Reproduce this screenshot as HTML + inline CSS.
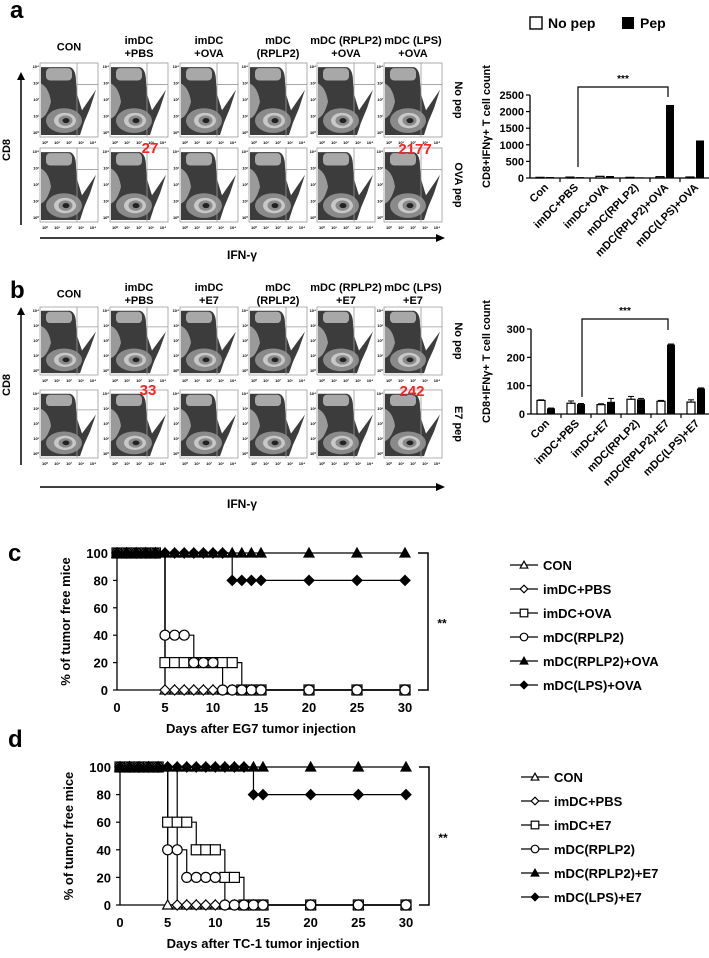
<!DOCTYPE html>
<html><head><meta charset="utf-8">
<style>
html,body{margin:0;padding:0;background:#fff;}
svg{display:block;font-family:"Liberation Sans",Arial,sans-serif;}
text{font-weight:bold;fill:#000;}
</style></head>
<body>
<svg id="fig" width="709" height="958" viewBox="0 0 709 958" xmlns="http://www.w3.org/2000/svg">
<defs>
<g id="flowplot">
  <rect x="0" y="0" width="58" height="72" fill="#fff" stroke="#999" stroke-width="0.8"/>
  <path d="M1,4 L30,4 Q36,6 36,18 L37,30 Q40,40 42,46 L56,26 L50,44 L44,58 L40,70 L1,70 Z" fill="#3c3c3c"/>
  <path d="M1,20 Q9,24 11,38 Q7,52 1,54 Z" fill="#9a9a9a"/>
  <rect x="6" y="5" width="26" height="12" rx="4" fill="#a8a8a8"/>
  <ellipse cx="24" cy="56" rx="18" ry="12" fill="#8a8a8a"/>
  <ellipse cx="25" cy="56" rx="11" ry="7.5" fill="#c8c8c8"/>
  <ellipse cx="25.5" cy="56" rx="7" ry="5" fill="#8a8a8a"/>
  <ellipse cx="26" cy="56" rx="3.5" ry="2.5" fill="#222"/>
  <line x1="37" y1="0" x2="37" y2="72" stroke="#999" stroke-width="0.8"/>
  <line x1="37" y1="21" x2="58" y2="21" stroke="#999" stroke-width="0.8"/>
</g>
</defs>
<g id="root"></g>
</svg>
<script>
// ---------- Panel a/b bar data ----------
const barCatsA = ["Con","imDC+PBS","imDC+OVA","mDC(RPLP2)","mDC(RPLP2)+OVA","mDC(LPS)+OVA"];
const noPepA = [20, 27, 50, 20, 40, 30];
const pepA   = [30, 27, 60, 20, 2200, 1130];
const ticksA = [0, 500, 1000, 1500, 2000, 2500];
const barCatsB = ["Con","imDC+PBS","imDC+E7","mDC(RPLP2)","mDC(RPLP2)+E7","mDC(LPS)+E7"];
const noPepB = [48, 38, 33, 52, 45, 42];
const noPepErrB = [2, 8, 3, 10, 3, 8];
const pepB   = [20, 35, 43, 52, 245, 90];
const pepErrB = [1, 2, 12, 3, 2, 2];
const ticksB = [0, 100, 200, 300];

// ---------- Survival data ----------
const days = [0,1,2,3,4,5,6,7,8,9,10,11,12,13,14,15,20,25,30];
const survTicksX = [0,5,10,15,20,25,30];
const survTicksY = [0,20,40,60,80,100];
const cCon  = [100,100,100,100,100,0,0,0,0,0,0,0,0,0,0,0,0,0,0];
const cPbs  = [100,100,100,100,100,0,0,0,0,0,0,0,0,0,0,0,0,0,0];
const cOva  = [100,100,100,100,100,20,20,20,20,20,20,20,20,0,0,0,0,0,0];
const cRplp = [100,100,100,100,100,40,40,40,20,20,20,0,0,0,0,0,0,0,0];
const cRplpOva = [100,100,100,100,100,100,100,100,100,100,100,100,100,100,100,100,100,100,100];
const cLps  = [100,100,100,100,100,100,100,100,100,100,100,100,80,80,80,80,80,80,80];
const dCon  = [100,100,100,100,100,0,0,0,0,0,0,0,0,0,0,0,0,0,0];
const dPbs  = [100,100,100,100,100,100,0,0,0,0,0,0,0,0,0,0,0,0,0];
const dE7   = [100,100,100,100,100,60,60,60,40,40,40,20,20,0,0,0,0,0,0];
const dRplp = [100,100,100,100,100,40,40,20,20,20,20,0,0,0,0,0,0,0,0];
const dRplpE7 = [100,100,100,100,100,100,100,100,100,100,100,100,100,100,100,100,100,100,100];
const dLps  = [100,100,100,100,100,100,100,100,100,100,100,100,100,100,80,80,80,80,80];

const NS = "http://www.w3.org/2000/svg";
const root = document.getElementById('root');
function mk(tag, attrs, parent){
  const e = document.createElementNS(NS, tag);
  for (const k in attrs) e.setAttribute(k, attrs[k]);
  (parent||root).appendChild(e);
  return e;
}
function txt(x,y,s,size,anchor,parent,extra){
  const t = mk('text',Object.assign({x:x,y:y,'font-size':size,'text-anchor':anchor||'middle'},extra||{}),parent);
  t.textContent = s;
  return t;
}

// ---------- Flow panels ----------
function flowPanel(letter, ly, headers, hy1, hy2, rowsY, rowH, rowLabels, ifnY, cd8Range, cd8Y, reds){
  const g = mk('g',{});
  
  
  const L = txt(10, ly+8, letter, 24, 'start', g);
  
  
  const colX = [40,110,180,249,317,384];
  headers.forEach((h,i)=>{
    const cx = colX[i]+29;
    if (h.length===1) txt(cx, (hy1+hy2)/2+4, h[0], 11, 'middle', g);
    else { txt(cx, hy1+4, h[0], 11, 'middle', g); txt(cx, hy2+4, h[1], 11, 'middle', g); }
  });
  rowsY.forEach((ry,r)=>{
    colX.forEach((cx,i)=>{
      const u = mk('use',{href:'#flowplot',transform:`translate(${cx},${ry}) scale(1,${rowH/72})`},g);
      
      
      ['10⁰','10¹','10²','10³','10⁴'].forEach((s,k)=>{
        txt(cx+5+k*12, ry+rowH+7, s, 4, 'middle', g);
      });
      ['10⁴','10³','10²','10¹','10⁰'].forEach((s,k)=>{
        txt(cx-1, ry+5+k*(rowH-8)/4, s, 4, 'end', g);
      });
    });
    const rl = txt(455, ry+rowH/2, rowLabels[r], 11, 'middle', g, {transform:`rotate(90 455 ${ry+rowH/2})`});
    
    
  });
  mk('line',{x1:40,y1:ifnY,x2:436,y2:ifnY,stroke:'#000','stroke-width':1.5},g);
  mk('path',{d:`M436,${ifnY-4} L445,${ifnY} L436,${ifnY+4} Z`,fill:'#000'},g);
  txt(242, ifnY+21, 'IFN-γ', 12, 'middle', g);
  mk('line',{x1:21,y1:cd8Range[1],x2:21,y2:cd8Range[0]+8,stroke:'#000','stroke-width':1.5},g);
  mk('path',{d:`M17,${cd8Range[0]+8} L21,${cd8Range[0]} L25,${cd8Range[0]+8} Z`,fill:'#000'},g);
  txt(10, cd8Y, 'CD8', 11, 'middle', g, {transform:`rotate(-90 10 ${cd8Y})`});
  reds.forEach(r=>{
    const t = txt(r[0], r[1], r[2], 15, 'middle', g);
    t.style.fill = '#ff2020';
    
    
  });
}
flowPanel('a', 10, [["CON"],["imDC","+PBS"],["imDC","+OVA"],["mDC","(RPLP2)"],["mDC (RPLP2)","+OVA"],["mDC (LPS)","+OVA"]],
  40, 53, [63,148], 74, ["No pep","OVA pep"], 238, [72,225], 150, [[150,153,"27"],[415,154,"2177"]]);
flowPanel('b', 290, [["CON"],["imDC","+PBS"],["imDC","+E7"],["mDC","(RPLP2)"],["mDC (RPLP2)","+E7"],["mDC (LPS)","+E7"]],
  287, 300, [307,390], 68, ["No pep","E7 pep"], 487, [307,465], 385, [[148,395,"33"],[412,396,"242"]]);

// ---------- Bar charts ----------
function barChart(id, cats, noPep, pep, noErr, pepErr, ticks, maxV, x0, y0, yTop, bracket){
  const g = mk('g',{});
  
  
  const y = v => y0 - v/maxV*(y0-yTop);
  const gw = 30;
  mk('line',{x1:x0,y1:yTop,x2:x0,y2:y0,stroke:'#000','stroke-width':1.3},g);
  mk('line',{x1:x0,y1:y0,x2:x0+gw*cats.length,y2:y0,stroke:'#000','stroke-width':1.3},g);
  ticks.forEach(t=>{
    mk('line',{x1:x0-4,y1:y(t),x2:x0,y2:y(t),stroke:'#000','stroke-width':1.2},g);
    txt(x0-6, y(t)+4, String(t), 11, 'end', g);
  });
  cats.forEach((c,i)=>{
    const cx = x0 + gw*i + gw/2;
    mk('line',{x1:x0+gw*(i+1),y1:y0,x2:x0+gw*(i+1),y2:y0+4,stroke:'#000','stroke-width':1.2},g);
    const b1 = mk('rect',{x:cx-9,y:y(noPep[i]),width:8,height:y0-y(noPep[i]),fill:'#fff',stroke:'#000','stroke-width':1.2},g);
    
    
    const b2 = mk('rect',{x:cx+1,y:y(pep[i]),width:8,height:y0-y(pep[i]),fill:'#000'},g);
    
    
    if (noErr) {
      mk('line',{x1:cx-5,y1:y(noPep[i]+noErr[i]),x2:cx-5,y2:y(noPep[i]),stroke:'#000','stroke-width':1},g);
      mk('line',{x1:cx-8,y1:y(noPep[i]+noErr[i]),x2:cx-2,y2:y(noPep[i]+noErr[i]),stroke:'#000','stroke-width':1},g);
      mk('line',{x1:cx+5,y1:y(pep[i]+pepErr[i]),x2:cx+5,y2:y(pep[i]),stroke:'#000','stroke-width':1},g);
      mk('line',{x1:cx+2,y1:y(pep[i]+pepErr[i]),x2:cx+8,y2:y(pep[i]+pepErr[i]),stroke:'#000','stroke-width':1},g);
    }
    const t = txt(cx+4, y0+10, c, 11, 'end', g, {transform:`rotate(-45 ${cx+4} ${y0+10})`});
    
    
  });
  const [bx1, by1, bTop, bx2, by2] = bracket;
  mk('path',{d:`M${bx1},${by1} L${bx1},${bTop} L${bx2},${bTop} L${bx2},${by2}`,fill:'none',stroke:'#000','stroke-width':1.2},g);
  txt((bx1+bx2)/2, bTop-5, '***', 10, 'middle', g);
  const yt = (yTop+y0)/2 - 10;
  txt(490, yt, 'CD8+IFNγ+ T cell count', 11, 'middle', g, {transform:`rotate(-90 490 ${yt})`});
}
barChart('a', barCatsA, noPepA, pepA, null, null, ticksA, 2500, 530, 178, 95, [578,167,87,668,97]);
barChart('b', barCatsB, noPepB, pepB, noPepErrB, pepErrB, ticksB, 300, 531, 414, 329, [582,397,319,668,330]);
{
  const lg = mk('g',{});
  
  
  mk('rect',{x:530,y:17,width:12,height:12,fill:'#fff',stroke:'#000','stroke-width':1.4},lg);
  txt(548, 28, 'No pep', 14, 'start', lg);
  mk('rect',{x:622,y:17,width:12,height:12,fill:'#000'},lg);
  txt(640, 28, 'Pep', 14, 'start', lg);
}

// ---------- Survival ----------
function marker(g, type, x, y, s){
  s = s || 5;
  let e;
  if (type==='tri-open' || type==='tri-fill') e = mk('path',{d:`M${x},${y-s} L${x+s},${y+s*0.8} L${x-s},${y+s*0.8} Z`,fill:type==='tri-fill'?'#000':'#fff',stroke:'#000','stroke-width':1.2},g);
  else if (type==='dia-open' || type==='dia-fill') e = mk('path',{d:`M${x},${y-s} L${x+s},${y} L${x},${y+s} L${x-s},${y} Z`,fill:type==='dia-fill'?'#000':'#fff',stroke:'#000','stroke-width':1.2},g);
  else if (type==='sq') e = mk('rect',{x:x-s,y:y-s,width:2*s,height:2*s,fill:'#fff',stroke:'#000','stroke-width':1.2},g);
  else e = mk('circle',{cx:x,cy:y,r:s,fill:'#fff',stroke:'#000','stroke-width':1.2},g);
  
  
}
function survival(id, letter, ly, series, types, names, x0, x30, y100, y0, xTitle, legX, legY){
  const g = mk('g',{});
  
  
  const L = txt(8, ly+9, letter, 24, 'start', g);
  
  
  const X = d => x0 + d/30*(x30-x0);
  const Y = v => y0 - v/100*(y0-y100);
  mk('line',{x1:x0,y1:y100-3,x2:x0,y2:y0,stroke:'#000','stroke-width':1.3},g);
  mk('line',{x1:x0,y1:y0,x2:x30+3,y2:y0,stroke:'#000','stroke-width':1.3},g);
  survTicksY.forEach(t=>{
    mk('line',{x1:x0-4,y1:Y(t),x2:x0,y2:Y(t),stroke:'#000','stroke-width':1.2},g);
    txt(x0-9, Y(t)+5, String(t), 13, 'end', g);
  });
  survTicksX.forEach(t=>{
    txt(X(t), y0+22, String(t), 13, 'middle', g);
  });
  txt((x0+x30)/2, y0+43, xTitle, 13, 'middle', g);
  const ym = (y0+y100)/2;
  txt(x0-47, ym, '% of tumor free mice', 13, 'middle', g, {transform:`rotate(-90 ${x0-47} ${ym})`});
  series.forEach((s,k)=>{
    let d = `M${X(days[0])},${Y(s[0])}`;
    for (let i=1;i<days.length;i++) d += ` L${X(days[i])},${Y(s[i-1])} L${X(days[i])},${Y(s[i])}`;
    const p = mk('path',{d:d,fill:'none',stroke:'#000','stroke-width':1.2},g);
    
    
  });
  series.forEach((s,k)=>{
    days.forEach((dd,i)=> marker(g, types[k], X(dd), Y(s[i])));
  });
  mk('path',{d:`M${x30+13},${y100} L${x30+23},${y100} L${x30+23},${y0} L${x30+13},${y0}`,fill:'none',stroke:'#000','stroke-width':1.5},g);
  txt(x30+37, ym+6, '**', 12, 'middle', g);
  names.forEach((n,k)=>{
    const ly2 = legY + k*24;
    const lg = mk('g',{},g);
    
    
    mk('line',{x1:legX,y1:ly2,x2:legX+28,y2:ly2,stroke:'#000','stroke-width':1.2},lg);
    marker(lg, types[k], legX+14, ly2, 3.8);
    txt(legX+33, ly2+5, n, 13, 'start', lg);
  });
}
const types = ['tri-open','dia-open','sq','circ','tri-fill','dia-fill'];
survival('c','c',552,[cCon,cPbs,cOva,cRplp,cRplpOva,cLps],types,
  ["CON","imDC+PBS","imDC+OVA","mDC(RPLP2)","mDC(RPLP2)+OVA","mDC(LPS)+OVA"],
  117,405,553,690,'Days after EG7 tumor injection',510,565);
survival('d','d',738,[dCon,dPbs,dE7,dRplp,dRplpE7,dLps],types,
  ["CON","imDC+PBS","imDC+E7","mDC(RPLP2)","mDC(RPLP2)+E7","mDC(LPS)+E7"],
  120,406,767,905,'Days after TC-1 tumor injection',521,777);
</script>
</body></html>
